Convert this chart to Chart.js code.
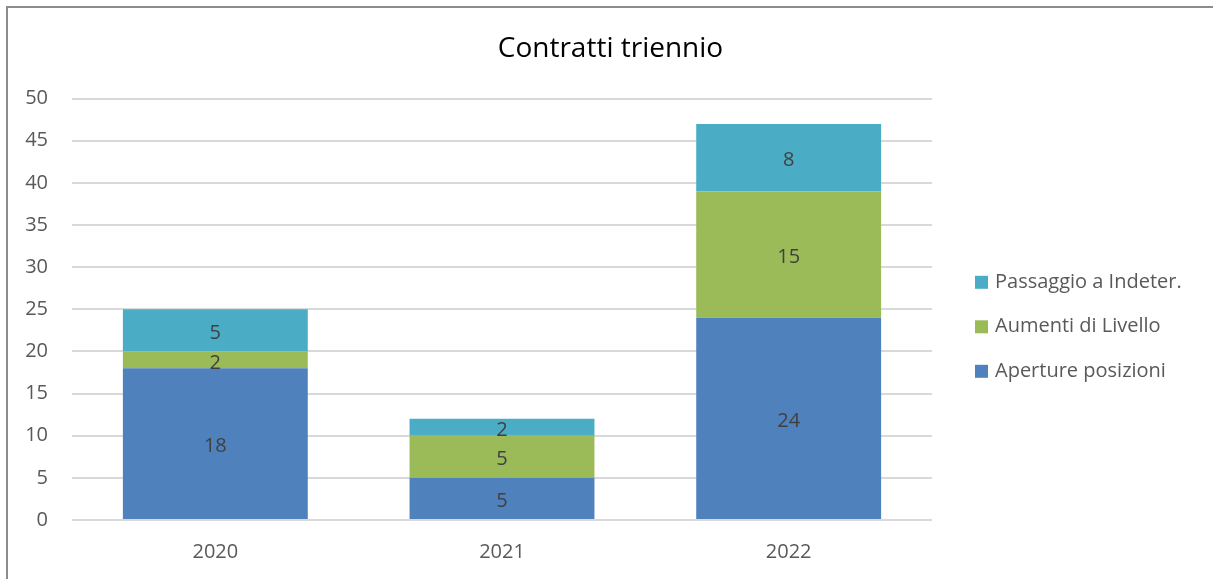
<!DOCTYPE html>
<html>
<head>
<meta charset="utf-8">
<script src="https://cdn.jsdelivr.net/npm/chart.js@4.4.0/dist/chart.umd.min.js"></script>
<style>
  html, body { margin: 0; padding: 0; background: #ffffff; }
  #wrap { position: relative; width: 1213px; height: 579px; }
</style>
</head>
<body>
<div id="wrap"><canvas id="contratti"></canvas></div>
<script>
const years = ["2020", "2021", "2022"];
const aperture = [18, 5, 24];
const aumenti = [2, 5, 15];
const passaggio = [5, 2, 8];
const yTicks = [0, 5, 10, 15, 20, 25, 30, 35, 40, 45, 50];

const FONT = "'Open Sans', 'Noto Sans', sans-serif";
const TEXT = "#595959";

// frame round the chart (top and left edges only are visible)
const framePlugin = {
  id: "frame",
  afterLayout(chart) {
    // centre the title on the whole frame, not only on the plot
    chart.titleBlock.left = 8;
    chart.titleBlock.right = chart.width;
  },
  beforeDraw(chart) {
    const c = chart.ctx;
    c.save();
    c.fillStyle = "#ffffff";
    c.fillRect(0, 0, chart.width, chart.height);
    c.strokeStyle = "#8c8c8c";
    c.lineWidth = 2;
    c.beginPath();
    c.moveTo(7, chart.height);
    c.lineTo(7, 7);
    c.lineTo(chart.width, 7);
    c.stroke();
    c.restore();
  }
};

// value in the middle of each segment
const valuePlugin = {
  id: "values",
  afterDatasetsDraw(chart) {
    const c = chart.ctx;
    c.save();
    c.font = "20px " + FONT;
    c.fillStyle = "#404040";
    c.textAlign = "center";
    c.textBaseline = "middle";
    chart.data.datasets.forEach((ds, i) => {
      chart.getDatasetMeta(i).data.forEach((bar, j) => {
        c.fillText(ds.data[j], bar.x, (bar.y + bar.base) / 2 + 3);
      });
    });
    c.restore();
  }
};

// legend on the right, last series on top
const legendPlugin = {
  id: "sideLegend",
  afterDraw(chart) {
    const c = chart.ctx;
    const area = chart.chartArea;
    const x = area.right + 43;
    const mid = (area.top + area.bottom) / 2 + 17;
    const gap = 44.5;
    const items = chart.data.datasets.slice().reverse();
    c.save();
    c.font = "20px " + FONT;
    c.textBaseline = "middle";
    items.forEach((ds, k) => {
      const y = mid + (k - 1) * gap;
      c.fillStyle = ds.backgroundColor;
      c.fillRect(x, y - 6, 13, 13);
      c.fillStyle = TEXT;
      c.fillText(ds.label, x + 20, y);
    });
    c.restore();
  }
};

new Chart(document.getElementById("contratti"), {
  type: "bar",
  data: {
    labels: years,
    datasets: [
      { label: "Aperture posizioni", data: aperture, backgroundColor: "#4f81bd" },
      { label: "Aumenti di Livello", data: aumenti, backgroundColor: "#9bbb59" },
      { label: "Passaggio a Indeter.", data: passaggio, backgroundColor: "#4bacc6" }
    ]
  },
  options: {
    responsive: true,
    maintainAspectRatio: false,
    animation: false,
    layout: { padding: { left: 8, right: 281, top: 0, bottom: 0 } },
    datasets: {
      bar: { categoryPercentage: 1, barPercentage: 0.645, borderWidth: 0 }
    },
    plugins: {
      legend: { display: false },
      tooltip: { enabled: false },
      title: {
        display: true,
        text: "Contratti triennio",
        color: "#000000",
        font: { family: FONT, size: 28, weight: "normal" },
        padding: { top: 32, bottom: 33 }
      }
    },
    scales: {
      x: {
        stacked: true,
        afterFit(scale) { scale.height = 59; },
        grid: { display: false, drawTicks: false },
        border: { display: false },
        ticks: { color: TEXT, font: { family: FONT, size: 20 }, padding: 20 }
      },
      y: {
        stacked: true,
        min: 0,
        max: 50,
        afterFit(scale) { scale.width = 64; },
        afterBuildTicks(scale) { scale.ticks = yTicks.map(v => ({ value: v })); },
        grid: { color: "#d9d9d9", lineWidth: 2, drawTicks: false },
        border: { display: false },
        ticks: { color: TEXT, font: { family: FONT, size: 20 }, padding: 24 }
      }
    }
  },
  plugins: [framePlugin, valuePlugin, legendPlugin]
});
</script>
</body>
</html>
